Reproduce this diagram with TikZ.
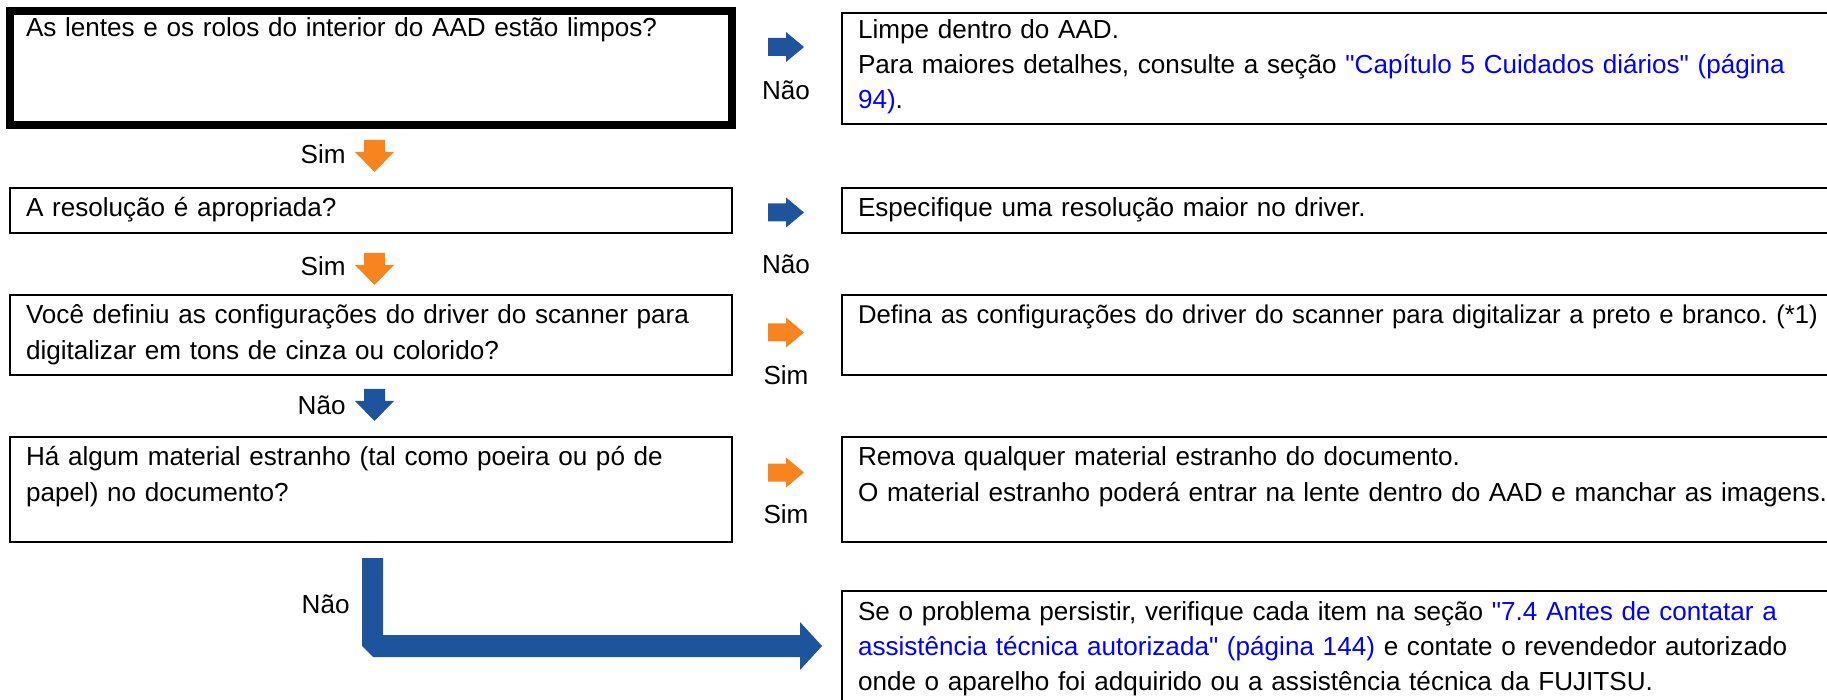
\documentclass[tikz,border=0pt]{standalone}
\usepackage{fontspec}
\setmainfont{Liberation Sans}[Ligatures=TeXOff]
\usetikzlibrary{positioning}
\definecolor{arrorange}{RGB}{247,132,30}
\definecolor{arrblue}{RGB}{29,84,156}
\definecolor{linkblue}{RGB}{0,0,255}
\newcommand{\lnk}[1]{\textcolor{linkblue}{#1}}
\frenchspacing

\begin{document}
\begin{tikzpicture}[x=0.5pt,y=-0.5pt,
  qbox/.style={draw,line width=1.2pt,anchor=north west,align=left,inner xsep=8pt,inner ysep=4.5pt,
    outer sep=0pt,text height=10pt,font=\fontsize{13.05}{17.5}\selectfont},
  leftbox/.style={qbox,text width=345pt},
  rightbox/.style={qbox,text width=560pt},
  lbl/.style={inner sep=0pt,font=\fontsize{13.05}{16}\selectfont},
  darr/.pic={\fill[pic actions] (-10.5,0) -- (10.5,0) -- (10.5,12) -- (19.5,12) -- (0,32) -- (-19.5,12) -- (-10.5,12) -- cycle;},
  rarr/.pic={\fill[pic actions] (0,-9) -- (18,-9) -- (18,-15) -- (36,0) -- (18,15) -- (18,9) -- (0,9) -- cycle;}]
  \useasboundingbox (0,0) rectangle (1827,700);
  \clip (0,0) rectangle (1827,700);
  % questions
  \node[leftbox,line width=4pt,inner ysep=3pt,text depth=41pt] (q1) at (10,11) {As lentes e os rolos do interior do AAD estão limpos?};
  \node[leftbox,text depth=3.5pt] (q2) at (10,188) {A resolução é apropriada?};
  \node[leftbox,text depth=21pt] (q3) at (10,295) {Você definiu as configurações do driver do scanner para\\digitalizar em tons de cinza ou colorido?};
  \node[leftbox,text depth=33.5pt] (q4) at (10,437) {Há algum material estranho (tal como poeira ou pó de\\papel) no documento?};
  % answers
  \node[rightbox,inner ysep=3pt,text depth=39.5pt] (r1) at (842,13) {Limpe dentro do AAD.\\Para maiores detalhes, consulte a seção \lnk{"Capítulo 5 Cuidados diários" (página}\\\lnk{94)}.};
  \node[rightbox,text depth=3.5pt] (r2) at (842,188) {Especifique uma resolução maior no driver.};
  \node[rightbox,text depth=21pt,font=\fontsize{12.85}{17.5}\selectfont] (r3) at (842,295) {Defina as configurações do driver do scanner para digitalizar a preto e branco. (*1)};
  \node[rightbox,text depth=33.5pt] (r4) at (842,437) {Remova qualquer material estranho do documento.\\O material estranho poderá entrar na lente dentro do AAD e manchar as imagens.};
  \node[rightbox,text depth=41pt] (r5) at (842,591) {Se o problema persistir, verifique cada item na seção \lnk{"7.4 Antes de contatar a}\\\lnk{assistência técnica autorizada" (página 144)} e contate o revendedor autorizado\\onde o aparelho foi adquirido ou a assistência técnica da FUJITSU.};
  % downward arrows
  \pic[fill=arrorange] (a1) at (374.5,140) {darr};
  \pic[fill=arrorange] (a2) at (374.5,253) {darr};
  \pic[fill=arrblue] (a3) at (374.5,389) {darr};
  \node[lbl,anchor=east] (s1) at (346,154) {Sim};
  \node[lbl,anchor=east] (s2) at (346,266) {Sim};
  \node[lbl,anchor=east] (n3) at (346,405) {Não};
  % arrows to the right
  \pic[fill=arrblue] (b1) at (768,47) {rarr};
  \pic[fill=arrblue] (b2) at (768,212.5) {rarr};
  \pic[fill=arrorange] (b3) at (768,332.5) {rarr};
  \pic[fill=arrorange] (b4) at (768,472.5) {rarr};
  \node[lbl] (n1) at (786,90) {Não};
  \node[lbl] (n2) at (786,264) {Não};
  \node[lbl] (s3) at (786,375) {Sim};
  \node[lbl] (s4) at (786,514) {Sim};
  % last step: bent arrow
  \fill[arrblue] (362,558) -- (383,558) -- (383,635) -- (800,635) -- (800,622) -- (822,646)
    -- (800,670) -- (800,657) -- (373,657) -- (362,646) -- cycle;
  \node[lbl,anchor=east] (n4) at (350,604) {Não};
\end{tikzpicture}
\end{document}
